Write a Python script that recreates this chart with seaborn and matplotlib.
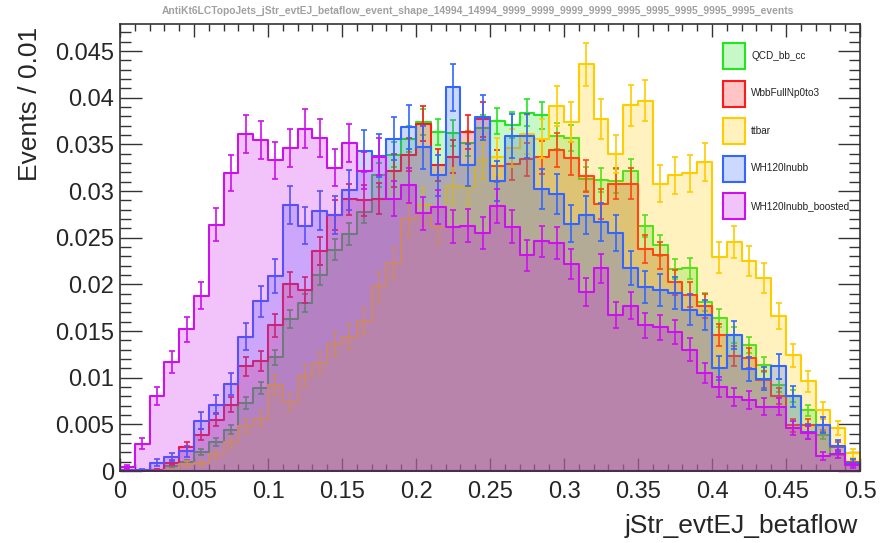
import numpy as np
import pandas as pd
import matplotlib
matplotlib.use("Agg")
import matplotlib.pyplot as plt
from matplotlib.patches import Rectangle
from matplotlib.ticker import MultipleLocator, FormatStrFormatter
import seaborn as sns

# Binning: 50 bins of width 0.01 on [0, 0.5]
edges = np.linspace(0.0, 0.5, 51)
centers = 0.5 * (edges[:-1] + edges[1:])

# Normalised bin contents per sample
qcd_bb_cc = [0.0, 0.0, 0.0001, 0.0005, 0.0010, 0.0020, 0.0031, 0.0044, 0.0073, 0.0089,
             0.0122, 0.0163, 0.0180, 0.0210, 0.0237, 0.0254, 0.0278, 0.0317, 0.0339, 0.0356,
             0.0374, 0.0363, 0.0362, 0.0351, 0.0368, 0.0375, 0.0371, 0.0384, 0.0381, 0.0359,
             0.0357, 0.0313, 0.0312, 0.0311, 0.0321, 0.0263, 0.0242, 0.0216, 0.0217, 0.0181,
             0.0164, 0.0146, 0.0135, 0.0114, 0.0092, 0.0080, 0.0065, 0.0039, 0.0017, 0.0009]

wbb_np0to3 = [0.0, 0.0, 0.0001, 0.0009, 0.0026, 0.0039, 0.0055, 0.0071, 0.0112, 0.0118,
              0.0156, 0.0200, 0.0194, 0.0236, 0.0274, 0.0291, 0.0290, 0.0292, 0.0322, 0.0339,
              0.0372, 0.0328, 0.0337, 0.0363, 0.0377, 0.0327, 0.0329, 0.0334, 0.0336, 0.0344,
              0.0335, 0.0316, 0.0286, 0.0308, 0.0308, 0.0238, 0.0231, 0.0202, 0.0189, 0.0177,
              0.0146, 0.0123, 0.0121, 0.0098, 0.0080, 0.0049, 0.0049, 0.0049, 0.0026, 0.0010]

ttbar = [0.0, 0.0, 0.0, 0.0001, 0.0008, 0.0009, 0.0018, 0.0031, 0.0048, 0.0056,
         0.0092, 0.0074, 0.0102, 0.0116, 0.0136, 0.0144, 0.0161, 0.0198, 0.0223, 0.0270,
         0.0285, 0.0261, 0.0305, 0.0304, 0.0333, 0.0337, 0.0346, 0.0361, 0.0356, 0.0391,
         0.0374, 0.0436, 0.0377, 0.0340, 0.0392, 0.0397, 0.0308, 0.0317, 0.0319, 0.0331,
         0.0229, 0.0245, 0.0225, 0.0207, 0.0166, 0.0124, 0.0096, 0.0065, 0.0046, 0.0019]

wh120_lnubb = [0.0001, 0.0001, 0.0009, 0.0015, 0.0021, 0.0054, 0.0071, 0.0093, 0.0144, 0.0182,
               0.0209, 0.0285, 0.0263, 0.0279, 0.0274, 0.0301, 0.0343, 0.0338, 0.0356, 0.0369,
               0.0347, 0.0317, 0.0411, 0.0328, 0.0379, 0.0311, 0.0359, 0.0359, 0.0302, 0.0297,
               0.0265, 0.0274, 0.0267, 0.0255, 0.0218, 0.0197, 0.0194, 0.0191, 0.0173, 0.0167,
               0.0110, 0.0146, 0.0109, 0.0099, 0.0112, 0.0080, 0.0042, 0.0049, 0.0027, 0.0009]

wh120_lnubb_boosted = [0.0004, 0.0029, 0.0080, 0.0117, 0.0152, 0.0188, 0.0264, 0.0319, 0.0361, 0.0355,
                       0.0333, 0.0346, 0.0367, 0.0357, 0.0325, 0.0351, 0.0322, 0.0337, 0.0292, 0.0306,
                       0.0276, 0.0283, 0.0262, 0.0263, 0.0255, 0.0284, 0.0262, 0.0231, 0.0246, 0.0244,
                       0.0222, 0.0192, 0.0217, 0.0167, 0.0177, 0.0156, 0.0154, 0.0149, 0.0130, 0.0105,
                       0.0090, 0.0079, 0.0076, 0.0069, 0.0069, 0.0046, 0.0041, 0.0016, 0.0018, 0.0006]

# Effective number of raw events per sample (sets the Poisson error size)
n_events = [18800, 10700, 8200, 6600, 8500]

labels = ["QCD_bb_cc", "WbbFullNp0to3", "ttbar", "WH120lnubb", "WH120lnubb_boosted"]
series = [qcd_bb_cc, wbb_np0to3, ttbar, wh120_lnubb, wh120_lnubb_boosted]
line_colors = ["#22e622", "#ff1a1a", "#ffcc00", "#3366ff", "#cc11ee"]
fill_alpha = 0.25

title = ("AntiKt6LCTopoJets_jStr_evtEJ_betaflow_event_shape_14994_14994_"
         "9999_9999_9999_9999_9995_9995_9995_9995_9995_events")

sns.set_style("ticks")
plt.rcParams["font.family"] = ["Liberation Sans", "DejaVu Sans"]

W, H = 880, 543
fig = plt.figure(figsize=(W / 100, H / 100), dpi=100)
ax = fig.add_axes([120 / W, 1 - 471 / H, 740 / W, 447 / H])

for i, (vals, lc, n) in enumerate(zip(series, line_colors, n_events)):
    vals = np.asarray(vals, dtype=float)
    df = pd.DataFrame({"x": centers, "w": vals})
    r, g, b, _ = matplotlib.colors.to_rgba(lc)
    before = len(ax.collections)
    sns.histplot(data=df, x="x", weights="w", binwidth=0.01, binrange=(0.0, 0.5),
                 element="step", fill=True, color=lc, facecolor=(r, g, b, fill_alpha),
                 linewidth=1.5, ax=ax)
    for coll in ax.collections[before:]:
        coll.set_zorder(2 * i + 1)
    err = np.sqrt(vals / n)
    mask = vals > 0
    ax.errorbar(centers[mask], vals[mask], yerr=err[mask], fmt="none", ecolor=lc,
                elinewidth=1.2, capsize=2.5, capthick=1.2, zorder=2 * i + 2)

ax.set_xlim(0, 0.5)
ax.set_ylim(0, 0.0479)
ax.set_xlabel("")
ax.set_ylabel("")

ax.xaxis.set_major_locator(MultipleLocator(0.05))
ax.xaxis.set_minor_locator(MultipleLocator(0.01))
ax.yaxis.set_major_locator(MultipleLocator(0.005))
ax.yaxis.set_minor_locator(MultipleLocator(0.001))
ax.xaxis.set_major_formatter(FormatStrFormatter("%g"))
ax.yaxis.set_major_formatter(FormatStrFormatter("%g"))

ax.tick_params(axis="both", which="both", direction="in", top=True, right=True,
               color="#333333", width=1.0)
ax.tick_params(axis="x", which="major", length=9.5, pad=7, labelsize=17)
ax.tick_params(axis="x", which="minor", length=5)
ax.tick_params(axis="y", which="major", length=16, pad=4, labelsize=17)
ax.tick_params(axis="y", which="minor", length=8)
for sp in ax.spines.values():
    sp.set_color("#333333")
    sp.set_linewidth(1.2)
    sp.set_zorder(20)

fig.text(858 / W, 1 - 526 / H, "jStr_evtEJ_betaflow", ha="right", va="center",
         fontsize=19)
fig.text(30 / W, 1 - 27 / H, "Events / 0.01", rotation=90, ha="center", va="top",
         fontsize=19)
fig.text(478 / W, 1 - 11 / H, title, ha="center", va="center", fontsize=7.4,
         fontweight="bold", color="#a0a0a0")

# Legend: filled boxes with outlines, one row per sample
for k, (lc, lab) in enumerate(zip(line_colors, labels)):
    r, g, b, _ = matplotlib.colors.to_rgba(lc)
    yc = 56 + 37.5 * k
    fig.add_artist(Rectangle((723 / W, 1 - (yc + 13) / H), 22 / W, 26 / H,
                             transform=fig.transFigure, facecolor=(r, g, b, fill_alpha),
                             edgecolor=lc, linewidth=1.5))
    fig.text(751 / W, 1 - yc / H, lab, ha="left", va="center", fontsize=7.2,
             color="#222222")

fig.savefig("out.png", dpi=100)
